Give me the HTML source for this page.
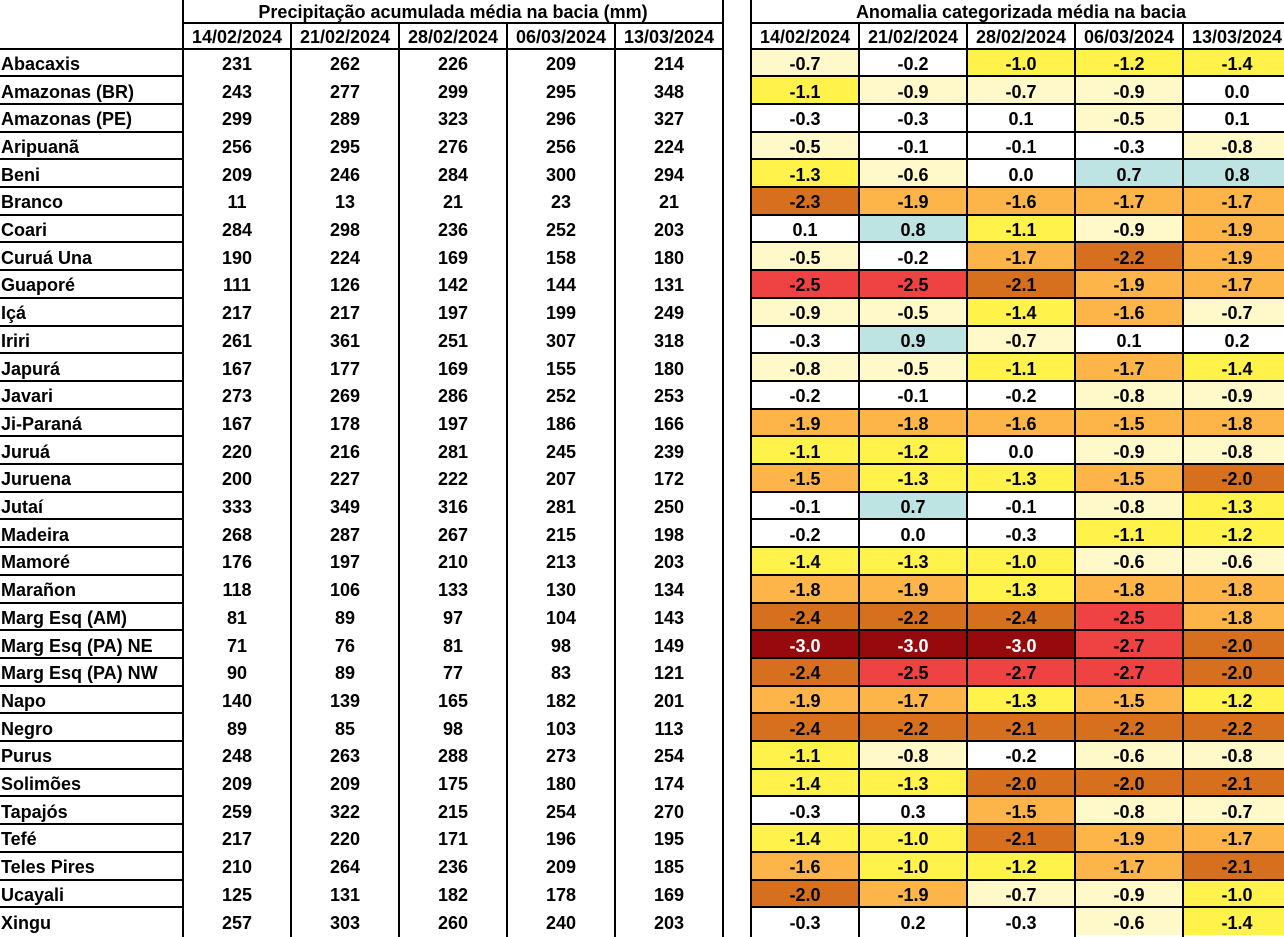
<!DOCTYPE html>
<html><head><meta charset="utf-8"><style>
body{margin:0;width:1284px;height:937px;overflow:hidden;background:#fff;font-family:"Liberation Sans",sans-serif;font-weight:bold;font-size:18px;color:#000;position:relative}
.c{position:absolute;display:flex;align-items:center;justify-content:center;white-space:nowrap;box-sizing:border-box;padding-top:4px}
.l{position:absolute;background:#000}
</style></head><body>
<script>
const names=["Abacaxis","Amazonas (BR)","Amazonas (PE)","Aripuanã","Beni","Branco","Coari","Curuá Una","Guaporé","Içá","Iriri","Japurá","Javari","Ji-Paraná","Juruá","Juruena","Jutaí","Madeira","Mamoré","Marañon","Marg Esq (AM)","Marg Esq (PA) NE","Marg Esq (PA) NW","Napo","Negro","Purus","Solimões","Tapajós","Tefé","Teles Pires","Ucayali","Xingu"];
const P=[[231,262,226,209,214],[243,277,299,295,348],[299,289,323,296,327],[256,295,276,256,224],[209,246,284,300,294],[11,13,21,23,21],[284,298,236,252,203],[190,224,169,158,180],[111,126,142,144,131],[217,217,197,199,249],[261,361,251,307,318],[167,177,169,155,180],[273,269,286,252,253],[167,178,197,186,166],[220,216,281,245,239],[200,227,222,207,172],[333,349,316,281,250],[268,287,267,215,198],[176,197,210,213,203],[118,106,133,130,134],[81,89,97,104,143],[71,76,81,98,149],[90,89,77,83,121],[140,139,165,182,201],[89,85,98,103,113],[248,263,288,273,254],[209,209,175,180,174],[259,322,215,254,270],[217,220,171,196,195],[210,264,236,209,185],[125,131,182,178,169],[257,303,260,240,203]];
const A=[[-0.7,-0.2,-1.0,-1.2,-1.4],[-1.1,-0.9,-0.7,-0.9,0.0],[-0.3,-0.3,0.1,-0.5,0.1],[-0.5,-0.1,-0.1,-0.3,-0.8],[-1.3,-0.6,0.0,0.7,0.8],[-2.3,-1.9,-1.6,-1.7,-1.7],[0.1,0.8,-1.1,-0.9,-1.9],[-0.5,-0.2,-1.7,-2.2,-1.9],[-2.5,-2.5,-2.1,-1.9,-1.7],[-0.9,-0.5,-1.4,-1.6,-0.7],[-0.3,0.9,-0.7,0.1,0.2],[-0.8,-0.5,-1.1,-1.7,-1.4],[-0.2,-0.1,-0.2,-0.8,-0.9],[-1.9,-1.8,-1.6,-1.5,-1.8],[-1.1,-1.2,0.0,-0.9,-0.8],[-1.5,-1.3,-1.3,-1.5,-2.0],[-0.1,0.7,-0.1,-0.8,-1.3],[-0.2,0.0,-0.3,-1.1,-1.2],[-1.4,-1.3,-1.0,-0.6,-0.6],[-1.8,-1.9,-1.3,-1.8,-1.8],[-2.4,-2.2,-2.4,-2.5,-1.8],[-3.0,-3.0,-3.0,-2.7,-2.0],[-2.4,-2.5,-2.7,-2.7,-2.0],[-1.9,-1.7,-1.3,-1.5,-1.2],[-2.4,-2.2,-2.1,-2.2,-2.2],[-1.1,-0.8,-0.2,-0.6,-0.8],[-1.4,-1.3,-2.0,-2.0,-2.1],[-0.3,0.3,-1.5,-0.8,-0.7],[-1.4,-1.0,-2.1,-1.9,-1.7],[-1.6,-1.0,-1.2,-1.7,-2.1],[-2.0,-1.9,-0.7,-0.9,-1.0],[-0.3,0.2,-0.3,-0.6,-1.4]];
const dates=["14/02/2024","21/02/2024","28/02/2024","06/03/2024","13/03/2024"];
function col(v){v=Math.round(v*10);
 if(v<=-30)return["#960a0e","#fff"];if(v<=-25)return["#ef4242","#000"];if(v<=-20)return["#d6701e","#000"];
 if(v<=-15)return["#fdb54a","#000"];if(v<=-10)return["#fff24a","#000"];if(v<=-4)return["#fff8c8","#000"];
 if(v>=7)return["#bde3e3","#000"];return["#fff","#000"];}
let h="";const c=(x,y,w,ht,t,bg,fg,al)=>{h+=`<div class="c" style="left:${x}px;top:${y}px;width:${w}px;height:${ht}px;${bg?'background:'+bg+';':''}${fg?'color:'+fg+';':''}${al?'justify-content:flex-start;padding-left:1px;':''}">${t}</div>`};
const L=(x,y,w,ht)=>{h+=`<div class="l" style="left:${x}px;top:${y}px;width:${w}px;height:${ht}px"></div>`};
const RH=27.7,T0=48.5;
const LX=[183,291,399,507,615],RX=[751,859,967,1075,1183];
c(183,-2,540,25,"Precipitação acumulada média na bacia (mm)");
c(751,-2,540,25,"Anomalia categorizada média na bacia");
for(let j=0;j<5;j++){c(LX[j],22,108,27,dates[j]);c(RX[j],22,108,27,dates[j]);}
for(let i=0;i<32;i++){const y=T0+i*RH;
 c(0,y,183,RH,names[i],null,null,1);
 for(let j=0;j<5;j++){c(LX[j],y,108,RH,P[i][j]);const k=col(A[i][j]);c(RX[j],y,108,RH,A[i][j].toFixed(1),k[0],k[1]);}
}
[183,723,751].forEach(x=>L(x-1,0,2,937));
[291,399,507,615,859,967,1075,1183].forEach(x=>L(x-1,22,2,915));
L(182,22,542,2);L(750,22,534,2);
L(0,48,724,2);L(750,48,534,2);
for(let i=1;i<32;i++){const y=Math.round(T0+i*RH)-1;L(0,y,183,2);L(750,y,534,2);}
document.write(h);
</script>
</body></html>
